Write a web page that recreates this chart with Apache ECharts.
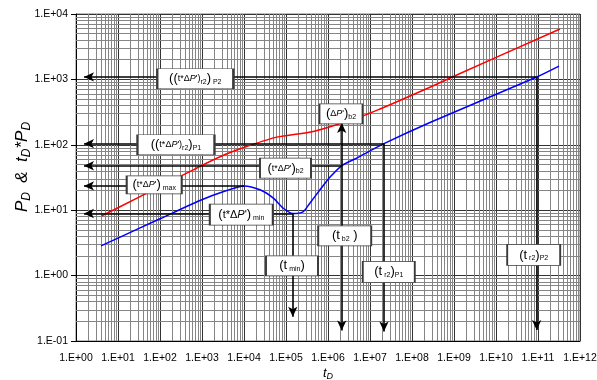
<!DOCTYPE html>
<html>
<head>
<meta charset="utf-8">
<script src="https://cdn.jsdelivr.net/npm/echarts@6/dist/echarts.min.js"></script>
<style>
html,body{margin:0;padding:0;background:#fff}
#chart{width:597px;height:380px}
</style>
</head>
<body>
<div id="chart"></div>
<script>
// Dimensionless pressure P_D (red) and derivative t_D*P'_D (blue) versus t_D
const redT  = [4.09, 10, 100, 621, 1000, 3530, 11600, 60000, 447000, 2.12e6, 6.9e6, 1.73e7, 3.0e7, 2.68e8, 8.03e8, 3.34e11];
const redP  = [8.19, 10.9, 23.0, 41.4, 48.5, 71, 94.2, 131, 160, 215, 278, 352, 409, 759, 1050, 5900];

const blueT = [3.94, 10, 100, 896, 3870, 1.0e4, 2.4e4, 4.99e4, 8.63e4, 1.45e5, 2.54e5, 3.73e5, 6.45e5, 1.12e6, 2.12e6, 4.82e6, 2.15e7, 2.68e8, 9.3e10, 3.16e11];
const blueP = [2.85, 3.75, 7.39, 14.1, 20.0, 23.5, 20.5, 15.3, 10.7, 8.9, 9.45, 12.9, 20.5, 32.1, 47.8, 62.7, 104, 219, 1090, 1600];

// characteristic points read on the curves
const tMax = 1.0e4,   maxVal = 23.5;
const tMin = 1.45e5,  minVal = 8.9;
const tB2  = 2.12e6,  b2Val  = 47.8, dPb2 = 215;
const tR2P1 = 2.15e7, r2P1Val = 104;
const tR2P2 = 9.3e10, r2P2Val = 1090;
const leftEnd = 1.55;                       // t_D where the horizontal arrows stop
const bottomEnds = {tmin: 0.235, tb2: 0.145, tr2P1: 0.14, tr2P2: 0.147};

// axis extents (decades)
const xDecades = [0, 12];
const yDecades = [-1, 4];

// annotation boxes: text and the (t_D, value) point each box is centred on
const noteText = [
  '{b|((}{s|t*Δ}{i|P}{s|\')}{u|r2}{b|)}{u| P2}',
  '{b|((}{s|t*Δ}{i|P}{s|\')}{u|r2}{b|)}{u|P1}',
  '{b|(}{s|t*Δ}{i|P}{s|\'}{b|)}{u| max}',
  '{b|(}{s|t*Δ}{i|P}{s|\'}{b|)}{u|b2}',
  '{b|(}{m|t*Δ}{mi|P}{m|\'}{b|)}{u| min}',
  '{b|(}{s|Δ}{i|P}{s|\'}{b|)}{u|b2}',
  '{b|(}{t|t}{u| min}{b|)}',
  '{b|(}{t|t}{u| b2}{b| )}',
  '{b|(}{t|t}{u| r2}{b|)}{u|P1}',
  '{b|(}{t|t}{u| r2}{b|)}{u|P2}'
];
const noteAt = [
  [692, 1023], [240, 100], [72.8, 24.4], [9.73e4, 44.1], [8630, 8.57],
  [2.04e6, 298], [1.39e5, 1.41], [2.5e6, 4.05], [2.8e7, 1.14], [7.9e10, 2.07]
];
const noteBox = [[76,20],[77,20],[55,18],[51,20],[63,21],[43,20],[52,20],[53,20],[52,21],[53,21]];

function pairs(xs, ys) { return xs.map((x, i) => [x, ys[i]]); }

function sciLabel(v) {
  const e = Math.round(Math.log10(v));
  return '1.E' + (e < 0 ? '-' : '+') + String(Math.abs(e)).padStart(2, '0');
}

// minor grid values 2..9 × 10^k
function minorValues(d0, d1) {
  const out = [];
  for (let k = d0; k < d1; k++) for (let m = 2; m <= 9; m++) out.push(m * Math.pow(10, k));
  return out;
}

const arrowLines = [
  [[tR2P2, r2P2Val], [leftEnd, r2P2Val]],
  [[tR2P2, r2P2Val], [tR2P2, bottomEnds.tr2P2]],
  [[tR2P1, r2P1Val], [leftEnd, r2P1Val]],
  [[tR2P1, r2P1Val], [tR2P1, bottomEnds.tr2P1]],
  [[tB2, b2Val], [leftEnd, b2Val]],
  [[tB2, b2Val], [tB2, dPb2]],
  [[tB2, b2Val], [tB2, bottomEnds.tb2]],
  [[tMax, maxVal], [leftEnd, maxVal]],
  [[tMin, minVal], [leftEnd, minVal]],
  [[tMin, minVal], [tMin, bottomEnds.tmin]]
];

const FONT = '"Liberation Sans", Arial, sans-serif';
const chart = echarts.init(document.getElementById('chart'), null, {renderer: 'canvas'});

const richBox = {
  b:  {fontSize: 13, fontFamily: FONT, color: '#000'},
  s:  {fontSize: 9,  fontFamily: FONT, color: '#000'},
  i:  {fontSize: 9,  fontFamily: FONT, color: '#000', fontStyle: 'italic'},
  m:  {fontSize: 11, fontFamily: FONT, color: '#000'},
  mi: {fontSize: 11, fontFamily: FONT, color: '#000', fontStyle: 'italic'},
  t:  {fontSize: 13, fontFamily: FONT, color: '#000'},
  u:  {fontSize: 7,  fontFamily: FONT, color: '#000', padding: [7, 0, 0, 0]}
};

chart.setOption({
  animation: false,
  backgroundColor: '#fff',
  grid: {left: 76, right: 17, top: 14, bottom: 39, containLabel: false, outerBoundsMode: 'none',
         show: true, borderColor: '#7a7a7a', borderWidth: 1, backgroundColor: '#fff'},
  xAxis: {
    type: 'log', logBase: 10,
    min: Math.pow(10, xDecades[0]), max: Math.pow(10, xDecades[1]),
    interval: 1, splitNumber: 12,
    axisLine: {show: true, lineStyle: {color: '#000', width: 1}},
    axisTick: {show: false},
    axisLabel: {formatter: sciLabel, fontSize: 10.5, fontFamily: FONT, color: '#000', margin: 12, showMinLabel: true, showMaxLabel: true, interval: 0},
    splitLine: {show: true, lineStyle: {color: '#333', width: 1}},
    name: '{t|t}{d|D}', nameLocation: 'middle', nameGap: 24, nameMoveOverlap: false,
    nameTextStyle: {rich: {
      t: {fontSize: 13, fontStyle: 'italic', fontFamily: FONT, color: '#000'},
      d: {fontSize: 9, fontStyle: 'italic', fontFamily: FONT, color: '#000', padding: [7, 0, 0, 0]}
    }}
  },
  yAxis: {
    type: 'log', logBase: 10,
    min: Math.pow(10, yDecades[0]), max: Math.pow(10, yDecades[1]),
    interval: 1, splitNumber: 5,
    axisLine: {show: true, lineStyle: {color: '#000', width: 1}},
    axisTick: {show: true, inside: false, length: 5, lineStyle: {color: '#000'}},
    axisLabel: {formatter: sciLabel, fontSize: 10.5, fontFamily: FONT, color: '#000', margin: 8},
    splitLine: {show: true, lineStyle: {color: '#333', width: 1}}
  },
  graphic: [{
    type: 'text', x: 22, y: 167, rotation: Math.PI / 2, z: 100,
    style: {
      text: '{p|P}{d|D}{p|  &  t}{d|D}{p|*P}{d|D}',
      align: 'center', verticalAlign: 'middle',
      rich: {
        p: {fontSize: 17, fontStyle: 'italic', fontFamily: FONT, fill: '#000'},
        d: {fontSize: 12, fontStyle: 'italic', fontFamily: FONT, fill: '#000', padding: [10, 0, 0, 0]}
      }
    }
  }],
  series: [
    {
      // minor grid
      type: 'line', data: [], silent: true, z: 1,
      markLine: {
        silent: true, symbol: ['none', 'none'], animation: false, z: 1,
        label: {show: false}, lineStyle: {color: '#858585', width: 1, type: 'solid'},
        emphasis: {disabled: true},
        data: minorValues(xDecades[0], xDecades[1]).map(v => ({xAxis: v}))
          .concat(minorValues(yDecades[0], yDecades[1]).map(v => ({yAxis: v})))
      }
    },
    {
      name: 'PD', type: 'line', data: pairs(redT, redP), showSymbol: false,
      smooth: 0.25, lineStyle: {color: '#ff0000', width: 1.5}, z: 4
    },
    {
      name: 'tD*PD', type: 'line', data: pairs(blueT, blueP), showSymbol: false,
      smooth: 0.25, lineStyle: {color: '#0000ff', width: 1.5}, z: 4
    },
    {
      // arrows to the axes
      type: 'line', data: [], silent: true, z: 5,
      markLine: {
        silent: true, animation: false, label: {show: false}, z: 5,
        symbol: ['none', 'arrow'], symbolSize: [7, 10],
        lineStyle: {color: '#000', width: 1.6, type: 'solid'},
        emphasis: {disabled: true},
        data: arrowLines.map(seg => [{coord: seg[0]}, {coord: seg[1]}])
      }
    },
    {
      // labelled boxes
      type: 'scatter', symbol: 'rect', silent: true, z: 10,
      itemStyle: {color: '#fff', borderColor: '#3a3a3a', borderWidth: 1.2, opacity: 1},
      emphasis: {disabled: true},
      labelLayout: {hideOverlap: false},
      data: noteAt.map((p, i) => ({
        value: p,
        symbolSize: noteBox[i],
        label: {
          show: true, position: 'inside', formatter: noteText[i],
          align: 'center', verticalAlign: 'middle', color: '#000',
          rich: richBox
        }
      }))
    }
  ]
});
</script>
</body>
</html>
